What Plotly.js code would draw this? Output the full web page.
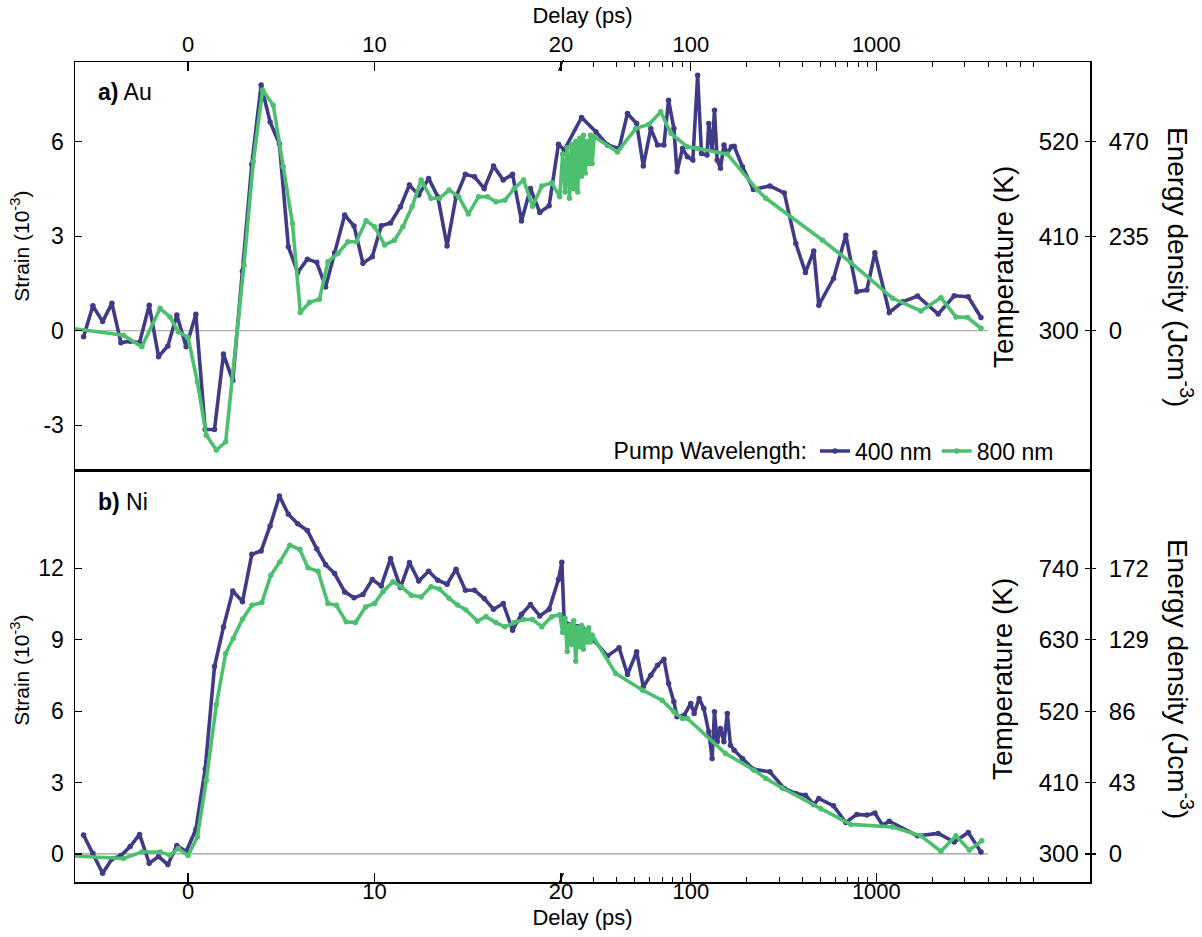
<!DOCTYPE html>
<html>
<head>
<meta charset="utf-8">
<script src="https://cdn.plot.ly/plotly-3.0.1.min.js"></script>
<style>html,body{margin:0;padding:0;background:#fff;}#chart{width:1202px;height:937px;}</style>
</head>
<body>
<div id="chart"></div>
<script>
// ---------------- data (delay in ps, strain in 1e-3) ----------------
const tAu400 = [-5.6,-5.1,-4.58,-4.08,-3.6,-3.1,-2.6,-2.08,-1.58,-1.08,-0.6,-0.1,0.42,0.92,1.42,1.9,2.4,2.92,3.42,3.92,4.4,4.9,5.38,5.88,6.4,6.9,7.38,7.86,8.4,8.9,9.38,9.88,10.36,10.86,11.39,11.87,12.37,12.9,13.39,13.89,14.37,14.87,15.36,15.88,16.38,16.9,17.4,17.88,18.36,18.86,19.36,19.86,
  20.8,25.8,30.8,35.6,41.1,45.6,51.1,55.5,60.9,66.2,71.7,75.9,81.1,84.3,90.3,95.9,102.6,108.9,114.2,122.3,125.0,130.3,134.2,138.8,144.6,150.9,157.4,165.5,171.4,189.9,217.5,267,319,368,415,460,490,588,685,785,889,982,1174,1384,1668,2154,2628,3128,3662];
const sAu400 = [-0.19,0.79,0.29,0.87,-0.38,-0.33,-0.38,0.81,-0.82,-0.48,0.5,-0.51,0.52,-3.13,-3.13,-0.74,-1.58,1.89,5.28,7.79,6.62,5.92,2.66,1.85,2.27,2.17,1.39,2.47,3.67,3.32,2.14,2.35,3.33,3.42,3.93,4.62,4.3,4.83,4.25,2.69,4.25,4.96,4.88,4.51,5.22,4.78,4.96,3.48,4.51,3.75,3.96,5.91,
  5.73,6.76,6.31,5.89,5.78,6.89,6.57,5.22,6.41,5.89,5.89,7.31,6.41,5.04,5.78,5.52,5.41,8.10,5.62,5.57,6.57,5.73,6.99,5.41,5.15,5.89,5.62,5.83,5.85,5.2,4.48,4.59,4.37,2.77,1.85,2.53,0.81,1.66,3.03,1.24,1.29,2.47,0.58,0.92,1.10,0.53,1.11,1.08,0.42];

const tAu800 = [-6.5,-3.46,-2.48,-1.5,-0.97,-0.52,0.0,0.5,0.98,1.52,2.02,3.0,3.5,4.0,4.57,5.1,5.6,6.02,6.52,7.05,7.5,8.04,8.57,9.02,9.55,10.0,10.54,11.07,11.52,12.01,12.5,13.03,13.48,14.0,14.51,15.03,15.58,16.06,16.51,16.99,17.49,17.99,18.47,18.97,19.5,19.93,
  20.4,21.0,21.6,22.2,22.8,23.4,24.0,24.6,25.2,25.8,26.4,27.0,27.6,28.2,28.8,29.4,
  30.2,40.3,50.5,59.6,68.9,78.1,95.9,108.9,157.4,228.9,253.9,513,729,1224,1738,2228,2686,3104,3662];
const sAu800 = [0.1,-0.14,-0.51,0.71,0.44,-0.03,-0.21,-1.62,-3.31,-3.78,-3.52,2.08,5.36,7.63,7.15,5.2,3.4,0.58,0.9,1.0,2.19,2.45,2.82,2.82,3.49,3.30,2.72,2.87,3.30,3.93,4.78,4.2,4.2,4.46,4.25,3.70,4.25,4.25,4.09,4.14,4.51,4.78,3.95,4.59,4.69,4.25,
  5.6,4.4,5.8,4.2,5.9,4.5,6.0,4.4,6.1,4.9,6.2,5.0,6.0,5.3,6.2,5.3,
  6.15,5.67,6.41,6.55,6.94,6.26,5.83,5.78,5.6,4.46,4.2,2.87,2.16,1.03,0.63,1.05,0.44,0.42,0.08];

const tNi400 = [-5.6,-5.1,-4.58,-4.08,-3.6,-3.1,-2.6,-2.08,-1.58,-1.08,-0.6,-0.1,0.42,0.92,1.42,1.9,2.4,2.92,3.42,3.92,4.4,4.9,5.38,5.88,6.4,6.9,7.38,7.86,8.4,8.9,9.38,9.88,10.36,10.86,11.39,11.87,12.37,12.9,13.39,13.89,14.37,14.87,15.36,15.88,16.38,16.9,17.4,17.88,18.36,18.86,19.36,19.86,
  20.2,20.8,23.0,25.8,30.1,35.6,41.1,45.6,51.1,55.5,60.9,66.2,71.7,75.9,81.1,84.3,92.1,100,104.3,111.0,117.6,125.0,130.3,134.2,138.8,144.6,150.9,157.4,163.6,171.4,189.9,217.5,267,319,368,415,460,490,588,685,785,889,982,1080,1174,1668,2154,2628,3128,3662];
const sNi400 = [0.79,0.03,-0.81,-0.21,-0.07,0.31,0.82,-0.39,-0.11,-0.45,0.35,0.10,1.03,3.57,7.87,9.53,11.05,10.6,12.59,12.73,13.78,15.04,14.27,13.87,13.59,12.82,12.15,11.78,11.01,10.76,10.9,11.53,11.26,12.41,11.19,12.24,11.47,11.88,11.5,11.33,11.96,11.08,11.08,10.73,10.28,10.52,9.4,10.07,10.48,10.0,10.28,11.53,
  12.25,9.75,9.61,9.57,8.98,8.32,8.66,7.54,8.49,7.02,7.51,7.93,8.18,7.16,6.39,5.76,5.83,6.32,5.9,6.53,6.11,5.13,4.01,5.97,4.71,5.27,4.71,5.9,4.57,4.36,4.01,3.56,3.45,2.75,2.54,2.47,2.08,2.33,2.02,1.32,1.66,1.63,1.72,1.21,1.37,0.76,0.86,0.50,0.90,0.08];

const tNi800 = [-6.5,-3.46,-2.48,-1.5,-0.97,-0.52,0.0,0.5,0.98,1.52,2.02,2.43,2.92,3.42,3.96,4.44,4.92,5.46,5.99,6.43,6.97,7.5,7.95,8.48,8.98,9.52,10.0,10.45,10.99,11.43,11.97,12.5,13.03,13.48,14.0,14.45,14.9,15.52,15.97,16.51,16.99,17.49,17.99,18.47,18.97,19.5,19.93,
  20.4,21.0,21.6,22.2,22.8,23.4,24.0,24.6,25.2,25.8,26.4,27.0,27.6,28.2,28.8,29.4,
  39.4,55.0,70.0,81.1,90.3,95.9,154,219.7,253.9,311,502,729,1224,1738,2228,2686,3172,3700];
const sNi800 = [-0.07,-0.19,0.08,0.08,-0.05,0.23,-0.07,0.71,3.1,6.28,8.42,9.05,9.86,10.45,10.56,11.71,12.27,12.97,12.8,12.02,11.88,10.52,10.45,9.75,9.72,10.38,10.52,11.02,11.44,11.23,10.87,10.8,11.23,11.13,10.74,10.46,10.25,9.78,9.97,9.72,9.54,9.72,9.85,9.85,9.55,9.97,10.05,
  9.3,9.9,8.5,9.6,8.8,9.8,8.1,9.5,8.7,9.6,8.6,9.4,8.9,9.5,8.9,9.2,
  7.58,6.88,6.46,5.97,5.69,5.69,4.22,3.52,3.17,2.77,1.9,1.24,1.13,0.76,0.11,0.76,0.16,0.55];

// axis labels
const xMajor = [0, 10, 20, 100, 1000, 10000];
const xMajorText = ['0', '10', '20', '100', '1000', ''];
const xMinor = [30,40,50,60,70,80,90,200,300,400,500,600,700,800,900,2000,3000,4000,5000,6000,7000,8000,9000];
const auStrainTicks = [-3, 0, 3, 6];
const auTempTicks = [0, 3, 6];
const auTempText = ['300', '410', '520'];
const auEnergyText = ['0', '235', '470'];
const niStrainTicks = [0, 3, 6, 9, 12];
const niTempText = ['300', '410', '520', '630', '740'];
const niEnergyText = ['0', '43', '86', '129', '172'];

// ---------------- broken axis: linear up to 20 ps, logarithmic after ----------------
const BREAK = 20, DEC = 9.95;
function u(t) { return t <= BREAK ? t : BREAK + DEC * Math.log10(t / BREAK); }

const BLUE = '#3f3b87', GREEN = '#4cc06e';
const FONT = 'Liberation Sans, Arial, Helvetica, sans-serif';
const XR = [-6.06, 48.36];
const SPLIT = 0.5024;

function tr(t, s, xa, ya, color, name, show) {
  return {x: t.map(u), y: s, xaxis: xa, yaxis: ya, type: 'scatter', mode: 'lines+markers',
    line: {color: color, width: 3.6}, marker: {color: color, size: 5.5},
    name: name, showlegend: show, legendgroup: name, hoverinfo: 'skip'};
}
function holder(xa, ya) {
  return {x: [], y: [], xaxis: xa, yaxis: ya, type: 'scatter', mode: 'lines', showlegend: false, hoverinfo: 'skip'};
}

const data = [
  tr(tAu400, sAu400, 'x2', 'y', BLUE, '400 nm', true),
  tr(tAu800, sAu800, 'x2', 'y', GREEN, '800 nm', true),
  tr(tNi400, sNi400, 'x', 'y2', BLUE, '400 nm', false),
  tr(tNi800, sNi800, 'x', 'y2', GREEN, '800 nm', false),
  holder('x2', 'y3'), holder('x2', 'y4'), holder('x', 'y5'), holder('x', 'y6')
];

const xCommon = {
  range: XR, showline: true, linecolor: '#000', linewidth: 1.5, mirror: true,
  ticks: 'inside', ticklen: 9, tickwidth: 1.2, tickcolor: '#000',
  tickmode: 'array', tickvals: xMajor.map(u), ticktext: xMajorText,
  tickfont: {size: 22, family: FONT, color: '#000'},
  minor: {tickmode: 'array', tickvals: xMinor.map(u), ticks: 'inside', ticklen: 5, tickwidth: 1, tickcolor: '#000'},
  showgrid: false, zeroline: false, fixedrange: true
};

const auR = [-4.415, 8.52];
const niR = [-1.18, 16.13];

function leftY(dom, rng, vals, anchorX) {
  return {domain: dom, range: rng, anchor: anchorX, showline: true, linecolor: '#000', linewidth: 1.5, mirror: true,
    ticks: 'inside', ticklen: 7, tickwidth: 1.2, tickcolor: '#000',
    tickmode: 'array', tickvals: vals, ticktext: vals.map(String),
    tickfont: {size: 23, family: FONT, color: '#000'}, ticklabelstandoff: 5,
    showgrid: false, zeroline: false, fixedrange: true};
}
function rightY(over, anchorX, rng, vals, txt, inside) {
  return {overlaying: over, side: 'right', anchor: anchorX, range: rng, showline: false,
    ticks: inside ? 'inside' : 'outside', ticklen: 5, tickwidth: 1.2, tickcolor: '#000',
    ticklabelposition: inside ? 'inside' : 'outside', ticklabelstandoff: 8,
    tickmode: 'array', tickvals: vals, ticktext: txt,
    tickfont: {size: 24, family: FONT, color: '#000'},
    showgrid: false, zeroline: false, fixedrange: true};
}

function slash(xref, yanchor, y0, y1) {
  return {type: 'line', xref: xref, yref: 'paper', xsizemode: 'pixel', ysizemode: 'pixel',
    xanchor: u(BREAK), yanchor: yanchor, x0: -2.5, x1: 2.5, y0: y0, y1: y1,
    line: {color: '#000', width: 1.3}};
}

const layout = {
  width: 1202, height: 937,
  margin: {l: 75, r: 112, t: 62, b: 55},
  paper_bgcolor: '#fff', plot_bgcolor: '#fff',
  font: {family: FONT, color: '#000'},
  showlegend: true,
  legend: {orientation: 'h', x: 0.969, xanchor: 'right', y: 0.5256, yanchor: 'middle',
    bgcolor: 'rgba(0,0,0,0)', font: {size: 23, family: FONT},
    title: {text: 'Pump Wavelength:', side: 'left', font: {size: 23, family: FONT}},
    itemwidth: 30, tracegroupgap: 0},
  xaxis: Object.assign({}, xCommon, {anchor: 'y2', side: 'bottom', ticklabelstandoff: -11,
    title: {text: 'Delay (ps)', font: {size: 22, family: FONT}, standoff: 6}}),
  xaxis2: Object.assign({}, xCommon, {anchor: 'y', side: 'top', matches: 'x',
    title: {text: 'Delay (ps)', font: {size: 22, family: FONT}, standoff: 2}}),
  yaxis: leftY([SPLIT, 1], auR, auStrainTicks, 'x2'),
  yaxis2: leftY([0, SPLIT], niR, niStrainTicks, 'x'),
  yaxis3: rightY('y', 'x2', auR, auTempTicks, auTempText, true),
  yaxis4: rightY('y', 'x2', auR, auTempTicks, auEnergyText, false),
  yaxis5: rightY('y2', 'x', niR, niStrainTicks, niTempText, true),
  yaxis6: rightY('y2', 'x', niR, niStrainTicks, niEnergyText, false),
  shapes: [
    {type: 'line', xref: 'x2', yref: 'y', x0: XR[0], x1: u(4000), y0: 0, y1: 0, layer: 'below', line: {color: '#9a9a9a', width: 1.2}},
    {type: 'line', xref: 'x', yref: 'y2', x0: XR[0], x1: u(4000), y0: 0, y1: 0, layer: 'below', line: {color: '#9a9a9a', width: 1.2}},
    slash('x2', 1, -9, 2),
    slash('x', 0, -2, 9)
  ],
  annotations: [
    {xref: 'paper', yref: 'paper', x: 0.0207, y: 0.9634, xanchor: 'left', yanchor: 'middle', showarrow: false,
      text: '<b>a)</b> Au', font: {size: 23, family: FONT}},
    {xref: 'paper', yref: 'paper', x: 0.0207, y: 0.4634, xanchor: 'left', yanchor: 'middle', showarrow: false,
      text: '<b>b)</b> Ni', font: {size: 23, family: FONT}},
    {xref: 'paper', yref: 'paper', x: -0.054, y: 0.775, xanchor: 'center', yanchor: 'middle', showarrow: false,
      textangle: -90, text: 'Strain (10<sup>-3</sup>)', font: {size: 21, family: FONT}},
    {xref: 'paper', yref: 'paper', x: -0.054, y: 0.258, xanchor: 'center', yanchor: 'middle', showarrow: false,
      textangle: -90, text: 'Strain (10<sup>-3</sup>)', font: {size: 21, family: FONT}},
    {xref: 'paper', yref: 'paper', x: 0.9143, y: 0.750, xanchor: 'center', yanchor: 'middle', showarrow: false,
      textangle: -90, text: 'Temperature (K)', font: {size: 28, family: FONT}},
    {xref: 'paper', yref: 'paper', x: 0.9143, y: 0.2476, xanchor: 'center', yanchor: 'middle', showarrow: false,
      textangle: -90, text: 'Temperature (K)', font: {size: 28, family: FONT}},
    {xref: 'paper', yref: 'paper', x: 1.0887, y: 0.750, xanchor: 'center', yanchor: 'middle', showarrow: false,
      textangle: 90, text: 'Energy density (Jcm<sup>-3</sup>)', font: {size: 28, family: FONT}},
    {xref: 'paper', yref: 'paper', x: 1.0887, y: 0.2476, xanchor: 'center', yanchor: 'middle', showarrow: false,
      textangle: 90, text: 'Energy density (Jcm<sup>-3</sup>)', font: {size: 28, family: FONT}}
  ]
};

Plotly.newPlot('chart', data, layout, {staticPlot: true, displayModeBar: false});
</script>
</body>
</html>
